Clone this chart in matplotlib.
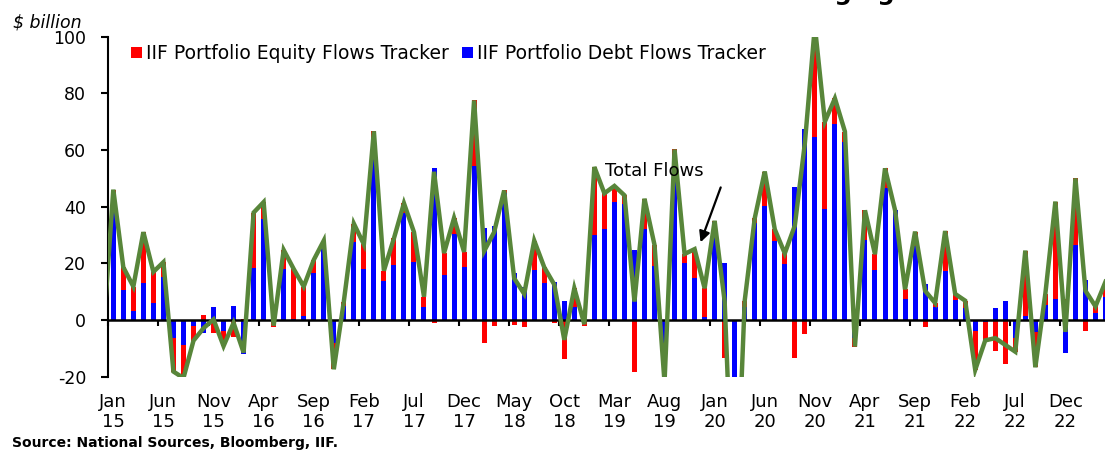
import numpy as np
import pandas as pd
import matplotlib
matplotlib.use('Agg')
import matplotlib.pyplot as plt

plt.rcParams['font.family'] = ['DejaVu Sans']
plt.rcParams['axes.unicode_minus'] = False

# monthly data, Dec 2014 .. Apr 2023 (Dec 14 only feeds the clipped start of the line)
months = pd.period_range('2014-12', '2023-04', freq='M')

# IIF portfolio debt flows tracker ($ bn)
debt = [-3.0,
        38.0, 10.6, 3.2, 13.0, 6.0, 15.0, -6.2, -8.8, -2.0, -4.7, 4.7, -3.9,
        5.0, -12.0, 18.5, 35.6, 0.5, 17.9, 0.5, 1.4, 16.5, 27.0, -8.2, 5.0,
        27.5, 17.9, 57.0, 13.9, 19.4, 37.9, 20.6, 4.7, 53.5, 15.9, 30.4, 18.8,
        54.4, 32.3, 33.0, 44.7, 16.5, 11.8, 17.6, 13.2, 13.5, 6.7, 4.7, 0.5,
        30.0, 32.0, 41.8, 41.0, 24.7, 32.0, 19.0, -8.0, 49.6, 20.0, 14.7, 1.0,
        34.7, 20.0, -25.0, 4.7, 34.4, 40.2, 28.0, 19.8, 46.8, 67.3, 64.7, 39.2,
        69.2, 62.9, -6.5, 28.2, 17.6, 46.5, 38.8, 7.3, 26.0, 12.7, 4.5, 17.4,
        7.0, 4.1, -3.8, -0.6, 4.4, 6.7, -6.5, 1.5, -4.1, 5.3, 7.3, -11.5,
        26.5, 14.1, 2.4, 8.0]

# IIF portfolio equity flows tracker ($ bn)
equity = [-2.0,
          8.0, 8.0, 8.6, 18.0, 11.0, 5.4, -12.0, -11.7, -5.3, 1.8, -4.5, -5.3,
          -6.0, 0.5, 19.4, 6.0, -2.5, 6.8, 17.5, 10.4, 4.7, 1.0, -9.2, 1.5,
          6.5, 8.8, 9.6, 3.5, 9.4, 3.3, 10.4, 3.5, -1.2, 7.7, 5.6, 5.2,
          23.1, -8.0, -2.0, 1.0, -1.8, -2.6, 10.4, 5.4, -1.0, -13.7, 6.5, -2.0,
          24.0, 12.7, 5.5, 3.0, -18.2, 10.8, 7.5, -14.0, 10.6, 3.3, 10.3, 10.2,
          0.3, -13.5, -58.0, 2.1, 1.5, 12.2, 4.0, 3.7, -13.5, -5.0, 39.0, 30.8,
          9.0, 3.6, -2.9, 10.5, 5.6, 7.0, 0.0, 3.5, 5.2, -2.4, 1.5, 14.0,
          2.2, 2.7, -13.8, -6.6, -10.8, -15.5, -4.7, 23.0, -12.6, 4.0, 34.5, 7.3,
          23.5, -3.8, 2.4, 5.5]

tick_labels = ['Jan\n15', 'Jun\n15', 'Nov\n15', 'Apr\n16', 'Sep\n16', 'Feb\n17', 'Jul\n17',
               'Dec\n17', 'May\n18', 'Oct\n18', 'Mar\n19', 'Aug\n19', 'Jan\n20', 'Jun\n20',
               'Nov\n20', 'Apr\n21', 'Sep\n21', 'Feb\n22', 'Jul\n22', 'Dec\n22']

debt = np.array(debt)
equity = np.array(equity)
total = debt + equity
x = np.arange(len(months)) - 1  # Jan 15 -> 0

# excel style stacking: same sign stacks on the debt bar, opposite sign starts at zero
eq_bottom = np.where(np.sign(equity) == np.sign(debt), debt, 0)

fig = plt.figure(figsize=(11.05, 4.5), dpi=100)
ax = fig.add_axes([0.098, 0.163, 0.902, 0.7556])

ax.bar(x, debt, width=0.5, color='#0000FF', label='IIF Portfolio Debt Flows Tracker', zorder=1)
ax.bar(x, equity, width=0.5, bottom=eq_bottom, color='#FF0000',
       label='IIF Portfolio Equity Flows Tracker', zorder=1)
ax.plot(x, total, color='#58863A', lw=3.2, solid_joinstyle='miter', zorder=3)

ax.set_xlim(-0.47, 98.95)
ax.set_ylim(-20, 100)

# axes styling
ax.spines['top'].set_visible(False)
ax.spines['right'].set_visible(False)
ax.spines['left'].set_linewidth(1.5)
ax.spines['bottom'].set_position(('data', 0))
ax.spines['bottom'].set_linewidth(1.8)
ax.spines['bottom'].set_zorder(2.5)

ax.set_yticks(np.arange(-20, 101, 20))
ax.tick_params(axis='y', direction='out', length=5, width=1.5, pad=11, labelsize=12.5)
ax.set_xticks([])
ax.set_xticks(np.arange(-0.5, 99, 5), minor=True)
ax.tick_params(axis='x', which='minor', direction='out', length=4.5, width=1.5)

# category labels sit at the bottom of the plot, not on the zero line
sec = ax.secondary_xaxis(0.0)
sec.set_xticks(np.arange(0, 96, 5), tick_labels)
sec.tick_params(length=0, pad=12, labelsize=13)
sec.spines['bottom'].set_visible(False)
for t in sec.get_xticklabels():
    t.set_linespacing(1.1)

# legend (equity first, like the original)
h, l = ax.get_legend_handles_labels()
fig.legend([h[1], h[0]], [l[1], l[0]], loc='upper left', bbox_to_anchor=(0.119, 0.902),
           ncol=2, frameon=False, fontsize=13.5, handlelength=0.55, handleheight=0.55,
           handletextpad=0.25, columnspacing=0.7, borderpad=0, borderaxespad=0)

# arrow + label for the total line
ax.text(54.0, 52.6, 'Total Flows', fontsize=13, ha='center', va='center')
ax.annotate('', xy=(58.5, 26.5), xytext=(60.7, 47.7),
            arrowprops=dict(arrowstyle='-|>', color='black', lw=1.6, mutation_scale=16))

fig.text(0.043, 0.951, '$ billion', fontsize=12.5, style='italic', ha='center', va='center')
fig.text(0.011, 0.0, 'Source: National Sources, Bloomberg, IIF.', fontsize=10,
         fontweight='bold', ha='left', va='bottom')
# title is cut off by the top edge of the picture, as in the original
fig.text(0.917, 1.001, 'Portfolio Flows to Emerging Markets', fontsize=17.5,
         fontweight='bold', ha='right', va='baseline')

fig.savefig('out.png', dpi=100)
